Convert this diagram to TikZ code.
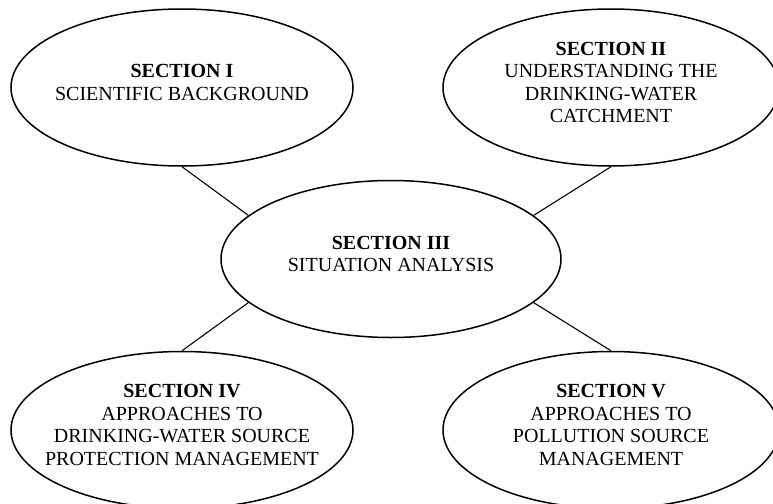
\documentclass[tikz,border=0pt]{standalone}
\usepackage{fontspec}
\setmainfont{Liberation Serif}
\usetikzlibrary{shapes.geometric}

\begin{document}
\begin{tikzpicture}[x=1pt,y=-1pt,
    sec/.style={ellipse,draw,line width=1.5pt,minimum width=342pt,minimum height=157pt,inner sep=0pt},
    txt/.style={align=center,font=\fontsize{20}{22.5}\selectfont,inner sep=0pt},
    link/.style={line width=1.1pt}]
  \useasboundingbox (0,0) rectangle (773,503);
  \node[sec] (s1) at (182,87.5) {};
  \node[sec,minimum width=336pt] (s2) at (611,87.5) {};
  \node[sec,minimum width=340pt] (s3) at (391,259) {};
  \node[sec,minimum width=342pt] (s4) at (182,430) {};
  \node[sec,minimum width=336pt] (s5) at (611,430) {};
  \node[txt] (t1) at ([yshift=5pt]s1.center) {\textbf{SECTION I}\\SCIENTIFIC BACKGROUND};
  \node[txt] (t2) at ([yshift=5pt]s2.center) {\textbf{SECTION II}\\UNDERSTANDING THE\\DRINKING-WATER\\CATCHMENT};
  \node[txt] (t3) at ([yshift=5pt]s3.center) {\textbf{SECTION III}\\SITUATION ANALYSIS};
  \node[txt] (t4) at ([yshift=5pt]s4.center) {\textbf{SECTION IV}\\APPROACHES TO\\DRINKING-WATER SOURCE\\PROTECTION MANAGEMENT};
  \node[txt] (t5) at ([yshift=5pt]s5.center) {\textbf{SECTION V}\\APPROACHES TO\\POLLUTION SOURCE\\MANAGEMENT};
  \draw[link] (s1.south) -- (s3.163);
  \draw[link] (s2.south) -- (s3.17);
  \draw[link] (s4.north) -- (s3.197);
  \draw[link] (s5.north) -- (s3.343);
\end{tikzpicture}
\end{document}
